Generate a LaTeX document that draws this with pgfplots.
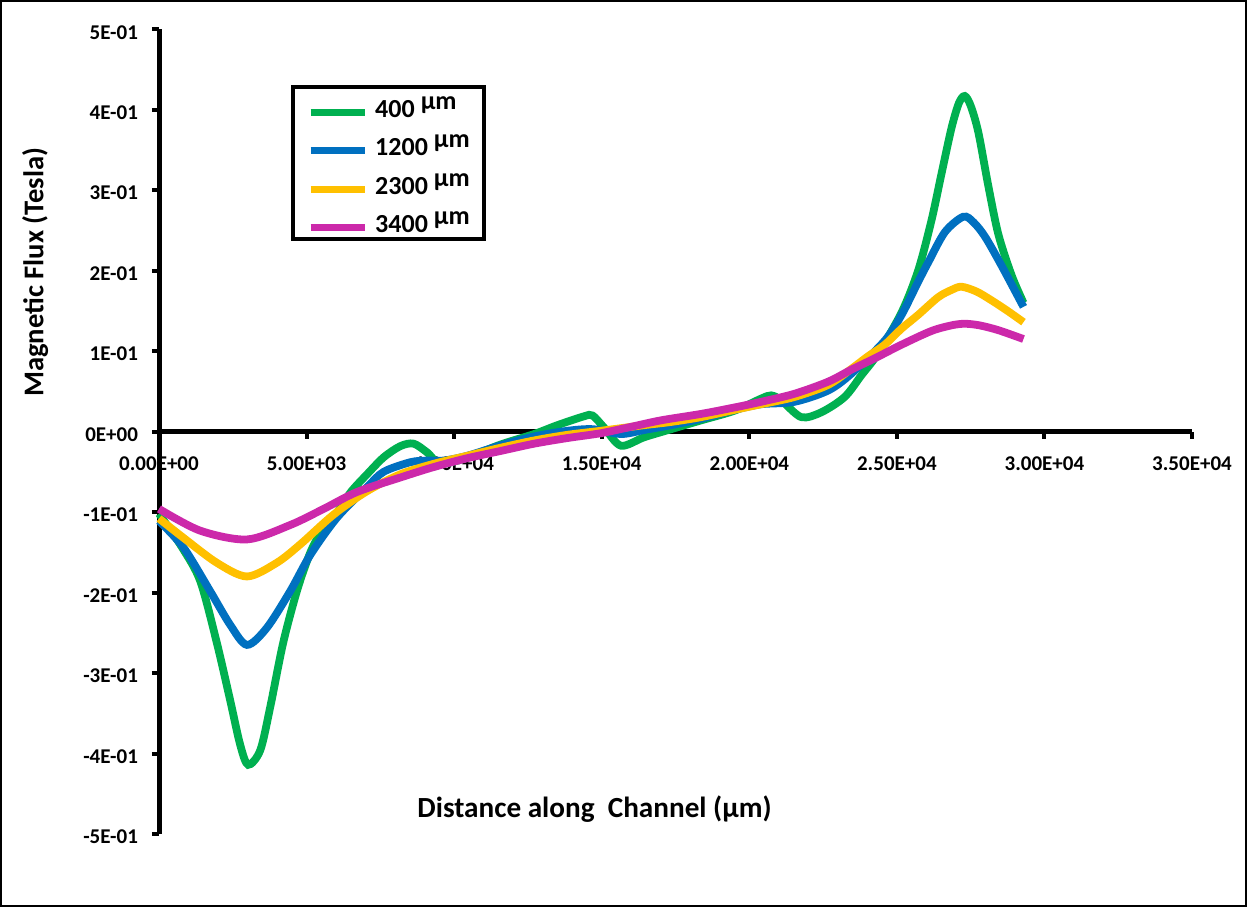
\documentclass[border=0pt]{standalone}
\usepackage{fontspec}
\setmainfont{Carlito}
\usepackage{pgfplots}
\pgfplotsset{compat=1.18}
\definecolor{cgreen}{RGB}{0,176,80}
\definecolor{cblue}{RGB}{0,112,192}
\definecolor{cyellow}{RGB}{255,192,0}
\definecolor{cmag}{RGB}{204,41,170}
\begin{document}
\begin{tikzpicture}
\begin{axis}[name=ax, at={(0,0)}, anchor=south west,
  scale only axis, width=516.5pt, height=402.4pt,
  xmin=0, xmax=35000, ymin=-0.5, ymax=0.5,
  axis x line=middle, axis y line=left,
  axis line style={-, line width=2.5pt, black},
  hide obscured x ticks=false, hide obscured y ticks=false,
  scaled x ticks=false, scaled y ticks=false,
  clip=false,
  xtick={0,5000,10000,15000,20000,25000,30000,35000},
  xticklabels={0.00E+00,5.00E+03,1.00E+04,1.50E+04,2.00E+04,2.50E+04,3.00E+04,3.50E+04},
  ytick={-0.5,-0.4,-0.3,-0.2,-0.1,0,0.1,0.2,0.3,0.4,0.5},
  yticklabels={-5E-01,-4E-01,-3E-01,-2E-01,-1E-01,0E+00,1E-01,2E-01,3E-01,4E-01,5E-01},
  tick align=outside, major tick length=3.6pt,
  major tick style={line width=2pt, black},
  tick label style={font=\bfseries\fontsize{10.5}{12}\selectfont},
  xticklabel style={yshift=-5.5pt},
  yticklabel style={xshift=-3.4pt, yshift=-1.5pt},
  xlabel={Distance along\ \ Channel (µm)},
  ylabel={Magnetic Flux (Tesla)},
  xlabel style={font=\bfseries\fontsize{14.6}{16}\selectfont, at={(axis description cs:0.4216,0.02)}, anchor=base},
  ylabel style={font=\bfseries\fontsize{14.3}{16}\selectfont, at={(axis description cs:-0.112,0.698)}, anchor=base, rotate=0},
  legend style={at={(0.128,0.931)}, anchor=north west, draw=black, line width=2pt,
    fill=white, inner xsep=7pt, inner ysep=3pt, row sep=6.9pt, /tikz/column sep=3.5pt,
    font=\bfseries\fontsize{13}{14}\selectfont,
    nodes={inner sep=0pt, text depth=0pt, text height=12.35pt}},
  legend cell align=left,
  legend image code/.code={\draw[#1, line width=3.5pt] (0pt,-3.5pt) -- (27pt,-3.5pt);},
  every axis plot/.append style={line width=3.9pt, smooth, tension=0.5},
]
\addplot[cgreen] coordinates {
(0,-0.102) (800,-0.145) (1400,-0.186) (1950,-0.261) (2400,-0.332) (2750,-0.389)
(3020,-0.414) (3430,-0.396) (3770,-0.342) (4210,-0.262) (4690,-0.196) (5130,-0.150)
(5500,-0.125) (6040,-0.100) (6500,-0.075) (7050,-0.053) (7610,-0.032) (8180,-0.018)
(8630,-0.015) (9090,-0.026) (9540,-0.040) (10450,-0.032) (11580,-0.016) (12710,-0.003)
(13500,0.008) (14400,0.019) (14690,0.020) (15080,0.005) (15650,-0.0175) (16440,-0.007)
(17350,0.003) (18370,0.014) (19500,0.026) (20400,0.041) (20740,0.045) (21080,0.039)
(21760,0.018) (22440,0.024) (23230,0.043) (23800,0.070) (24360,0.097) (25160,0.148)
(25720,0.200) (26170,0.262) (26510,0.320) (26850,0.377) (27100,0.408) (27300,0.417)
(27500,0.405) (27760,0.372) (28100,0.305) (28440,0.245) (28890,0.194) (29290,0.160)};
\addlegendentry{400\hspace{3pt}\raisebox{4pt}{µm}}
\addplot[cblue] coordinates {
(0,-0.111) (830,-0.144) (1730,-0.198) (2410,-0.240) (2980,-0.265) (3650,-0.244)
(4450,-0.198) (5130,-0.153) (6030,-0.107) (7050,-0.069) (7610,-0.050) (8520,-0.038)
(9090,-0.036) (9650,-0.036) (10450,-0.030) (11580,-0.017) (12710,-0.006) (13840,0.001)
(14700,0.003) (15650,-0.003) (16440,0.002) (17350,0.008) (18370,0.016) (19500,0.027)
(20400,0.034) (21530,0.037) (22670,0.051) (23460,0.072) (24590,0.113) (25160,0.145)
(25720,0.186) (26060,0.210) (26630,0.248) (27250,0.267) (27600,0.260) (27990,0.242)
(28550,0.206) (29290,0.155)};
\addlegendentry{1200\hspace{3pt}\raisebox{4pt}{µm}}
\addplot[cyellow] coordinates {
(0,-0.108) (830,-0.132) (1960,-0.163) (2980,-0.180) (3990,-0.163) (4790,-0.140)
(5920,-0.103) (7050,-0.074) (8180,-0.053) (9310,-0.040) (10450,-0.030) (11580,-0.020)
(12710,-0.011) (13840,-0.004) (14970,0.001) (16440,0.008) (17350,0.012) (18370,0.018)
(19500,0.027) (20400,0.034) (21530,0.043) (22670,0.058) (23460,0.078) (24000,0.093)
(24590,0.108) (25160,0.128) (25720,0.145) (26400,0.167) (26850,0.176) (27190,0.180)
(27700,0.174) (28210,0.163) (28750,0.150) (29290,0.136)};
\addlegendentry{2300\hspace{3pt}\raisebox{4pt}{µm}}
\addplot[cmag] coordinates {
(0,-0.096) (1390,-0.123) (2980,-0.134) (4450,-0.116) (5580,-0.096) (6710,-0.075)
(8180,-0.057) (9310,-0.044) (10450,-0.033) (11580,-0.024) (12710,-0.015) (13840,-0.008)
(14970,-0.002) (16000,0.006) (17010,0.014) (18370,0.022) (19500,0.030) (20400,0.037)
(21530,0.047) (22670,0.062) (23460,0.077) (24250,0.091) (25160,0.108) (26170,0.125)
(26850,0.132) (27300,0.134) (27800,0.132) (28440,0.126) (29290,0.115)};
\addlegendentry{3400\hspace{3pt}\raisebox{4pt}{µm}}
\end{axis}
\draw[line width=1pt] ([shift={(-79pt,-36pt)}]ax.south west) rectangle ([shift={(543.5pt,416.5pt)}]ax.south west);
\end{tikzpicture}
\end{document}
